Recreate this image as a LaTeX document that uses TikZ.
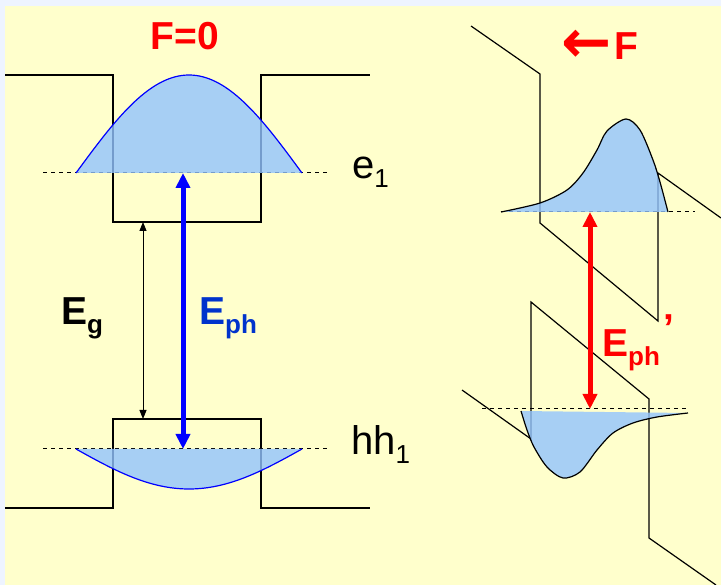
\documentclass[tikz,border=0pt]{standalone}
\usepackage{fontspec}
\setmainfont{Liberation Sans}
\newfontfamily\arrowfont{DejaVu Sans}
\usetikzlibrary{
  arrows.meta,
  positioning,
  calc
}
\definecolor{qwBack}{HTML}{FFFFCC}
\definecolor{qwEdge}{HTML}{EEF4FF}
\definecolor{qwWave}{HTML}{92C4FF}
\definecolor{qwBlue}{HTML}{0000FF}
\definecolor{qwText}{HTML}{0033CC}
\definecolor{qwRed}{HTML}{FF0000}
\newcommand{\bigfont}{\fontsize{39}{42}\selectfont}
\newcommand{\lvlfont}{\fontsize{40}{42}\selectfont}
\newcommand{\lsub}[1]{\raisebox{-8.5pt}{\fontsize{26}{28}\selectfont #1}}
\tikzset{
  band/.style={line width=1.2pt, black, line join=miter},
  level/.style={line width=1pt, black, dash pattern=on 4pt off 4pt},
  wave/.style={fill=qwWave, fill opacity=0.8},
  wavel/.style={line width=1.2pt, qwBlue},
  waver/.style={line width=1.2pt, black},
  gap/.style={{Triangle[width=7pt,length=9pt]}-{Triangle[width=7pt,length=9pt]}, line width=1pt, black},
  photon/.style={{Triangle[width=14pt,length=15pt]}-{Triangle[width=14pt,length=15pt]}, line width=5pt},
  lbl/.style={inner sep=0pt, anchor=base west, font=\lvlfont},
  tag/.style={inner sep=0pt, anchor=base west, font=\bigfont\bfseries}
}
\begin{document}
\begin{tikzpicture}[x=1pt, y=-1pt]
  \useasboundingbox (0,0) rectangle (721,585);
  \fill[qwEdge] (0,0) rectangle (721,585);
  \fill[qwBack] (5,6) rectangle (721,585);

  % flat bands, F=0
  \draw[band] (5,75) -- (113,75) -- (113,222) -- (261,222) -- (261,75) -- (370,75);
  \draw[band] (5,508) -- (113,508) -- (113,419) -- (261,419) -- (261,508) -- (370,508);
  \draw[level] (43,173) -- (330,173);
  \draw[level] (43,449) -- (330,449);
  \fill[wave] plot[domain=76:302, samples=80] (\x, {173-98*cos(90*(\x-189)/113)}) -- cycle;
  \draw[wavel] plot[domain=76:302, samples=80] (\x, {173-98*cos(90*(\x-189)/113)});
  \fill[wave] plot[domain=76:302, samples=80] (\x, {449+40*cos(90*(\x-189)/113)}) -- cycle;
  \draw[wavel] plot[domain=76:302, samples=80] (\x, {449+40*cos(90*(\x-189)/113)});

  \coordinate (cbBot) at (143,222);
  \coordinate (vbTop) at (143,419);
  \coordinate (e1) at (183,173);
  \coordinate (hh1) at (183,449);
  \draw[gap] (cbBot) -- (vbTop);
  \draw[photon, qwBlue] (e1) -- (hh1);

  \node[tag, qwRed, anchor=base] (fzero) at (185,50) {F=0};
  \node[lbl] (e1lbl) at (352,179) {e\lsub{1}};
  \node[lbl] (hh1lbl) at (351,455) {hh\lsub{1}};
  \node[tag] (eg) at (61,325) {E\lsub{g}};
  \node[tag, qwText] (eph) at (199,325) {E\lsub{ph}};

  % tilted bands, F<0
  \draw[band] (471,26) -- (540,74) -- (540,223) -- (658,321) -- (658,173) -- (721,218);
  \draw[band] (462,390) -- (531,439) -- (531,302) -- (649,399) -- (649,538) -- (716,585);
  \draw[level] (501,212) -- (695,212);
  \draw[level] (482,409) -- (687,409);
  \fill[wave] plot[smooth] coordinates {(501,212) (540,203) (567,190) (583,173) (597,150) (607,131) (626,119) (640,130) (653,160) (660,182) (668,212)} -- cycle;
  \draw[waver] plot[smooth] coordinates {(501,212) (540,203) (567,190) (583,173) (597,150) (607,131) (626,119) (640,130) (653,160) (660,182) (668,212)};
  \fill[wave] plot[smooth] coordinates {(521,411) (527,430) (534,447) (547,467) (563,478) (580,472) (597,450) (613,433) (633,423) (657,417) (688,413)} -- cycle;
  \draw[waver] plot[smooth] coordinates {(521,411) (527,430) (534,447) (547,467) (563,478) (580,472) (597,450) (613,433) (633,423) (657,417) (688,413)};

  \coordinate (e1f) at (590,212);
  \coordinate (hh1f) at (590,409);
  \draw[photon, qwRed] (e1f) -- (hh1f);

  \node[tag, qwRed] (field) at (561,60) {\raisebox{-3pt}{\arrowfont\fontsize{60}{60}\selectfont ←}\hspace{3pt}F};
  \node[tag, qwRed] (ephf) at (602,357) {E\lsub{ph}\hspace{4pt}\raisebox{15pt}{’}};
\end{tikzpicture}
\end{document}
